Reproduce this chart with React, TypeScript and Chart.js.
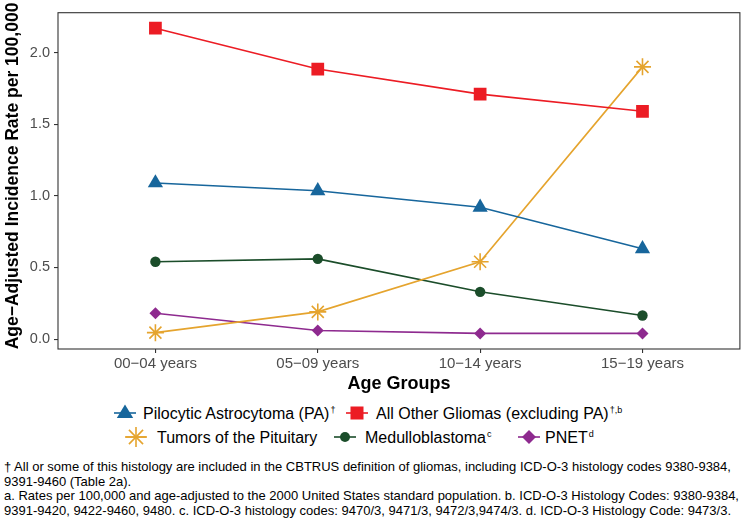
import React, { useEffect, useRef } from "react";
import { Chart, registerables } from "chart.js";

Chart.register(...registerables);

const FONT = '"Liberation Sans", Arial, Helvetica, sans-serif';

// ---- data ----
const categories = ["00\u221204 years", "05\u221209 years", "10\u221214 years", "15\u221219 years"];
const yTicks = [0, 0.5, 1.0, 1.5, 2.0];
const paValues = [1.09, 1.035, 0.92, 0.63];
const otherGliomaValues = [2.17, 1.885, 1.71, 1.59];
const pituitaryValues = [0.045, 0.19, 0.54, 1.9];
const medulloValues = [0.54, 0.56, 0.33, 0.165];
const pnetValues = [0.18, 0.06, 0.04, 0.04];

const xTitle = "Age Groups";
const yTitle = "Age\u2212Adjusted Incidence Rate per 100,000";

const COLORS = {
  pa: "#17669C",
  other: "#EC1C24",
  pit: "#E5A42E",
  med: "#1B4D2A",
  pnet: "#8E2A8F",
};

const footnotes = [
  "\u2020 All or some of this histology are included in the CBTRUS definition of gliomas, including ICD-O-3 histology codes 9380-9384,",
  "9391-9460 (Table 2a).",
  "a. Rates per 100,000 and age-adjusted to the 2000 United States standard population. b. ICD-O-3 Histology Codes: 9380-9384,",
  "9391-9420, 9422-9460, 9480. c. ICD-O-3 histology codes: 9470/3, 9471/3, 9472/3,9474/3. d. ICD-O-3 Histology Code: 9473/3.",
];

const toPts = (vals: number[]) => vals.map((v, i) => ({ x: i + 1, y: v }));

const decorPlugin = {
  id: "decor",
  afterDraw(chart: any) {
    const { ctx, chartArea: a } = chart;
    ctx.save();
    ctx.strokeStyle = "#333333";
    ctx.lineWidth = 1.1;
    ctx.strokeRect(a.left, a.top, a.right - a.left, a.bottom - a.top);
    ctx.fillStyle = "#000000";
    ctx.font = `bold 18px ${FONT}`;
    ctx.textAlign = "center";
    ctx.textBaseline = "alphabetic";
    ctx.fillText(xTitle, (a.left + a.right) / 2, 388.5);
    ctx.translate(17.5, 176);
    ctx.rotate(-Math.PI / 2);
    ctx.font = `bold 17.5px ${FONT}`;
    ctx.fillText(yTitle, 0, 0);
    ctx.restore();
  },
};

type Shape = "triangle" | "square" | "star" | "circle" | "diamond";

function Icon({ shape, color }: { shape: Shape; color: string }) {
  const c = 13;
  let mark: React.ReactNode = null;
  if (shape === "triangle") {
    mark = <polygon points={`${c},${c - 8.5} ${c + 8.2},${c + 5} ${c - 8.2},${c + 5}`} fill={color} />;
  } else if (shape === "square") {
    mark = <rect x={c - 6.5} y={c - 6.5} width={13} height={13} fill={color} />;
  } else if (shape === "circle") {
    mark = <circle cx={c} cy={c} r={5} fill={color} />;
  } else if (shape === "diamond") {
    mark = <polygon points={`${c},${c - 7} ${c + 7},${c} ${c},${c + 7} ${c - 7},${c}`} fill={color} />;
  } else {
    const r = 10;
    const d = r * Math.SQRT1_2;
    mark = (
      <g stroke={color} strokeWidth={1.6}>
        <line x1={c - r} y1={c} x2={c + r} y2={c} />
        <line x1={c} y1={c - r} x2={c} y2={c + r} />
        <line x1={c - d} y1={c - d} x2={c + d} y2={c + d} />
        <line x1={c - d} y1={c + d} x2={c + d} y2={c - d} />
      </g>
    );
  }
  return (
    <svg width={26} height={26} style={{ display: "block" }}>
      <line x1={2} y1={c} x2={24} y2={c} stroke={color} strokeWidth={1.6} />
      {mark}
    </svg>
  );
}

const legendItems: { label: string; sup: string; shape: Shape; color: string; cx: number; cy: number; tx: number }[] = [
  { label: "Pilocytic Astrocytoma (PA)", sup: "\u2020", shape: "triangle", color: COLORS.pa, cx: 124.5, cy: 413, tx: 143 },
  { label: "All Other Gliomas (excluding PA)", sup: "\u2020,b", shape: "square", color: COLORS.other, cx: 357, cy: 413, tx: 376 },
  { label: "Tumors of the Pituitary", sup: "", shape: "star", color: COLORS.pit, cx: 136, cy: 437, tx: 157 },
  { label: "Medulloblastoma", sup: "c", shape: "circle", color: COLORS.med, cx: 345, cy: 437, tx: 365 },
  { label: "PNET", sup: "d", shape: "diamond", color: COLORS.pnet, cx: 529, cy: 437, tx: 545 },
];

export default function App() {
  const ref = useRef<HTMLCanvasElement>(null);

  useEffect(() => {
    if (!ref.current) return;
    const chart = new Chart(ref.current, {
      type: "line",
      data: {
        datasets: [
          {
            label: "Pilocytic Astrocytoma (PA)",
            data: toPts(paValues),
            borderColor: COLORS.pa,
            backgroundColor: COLORS.pa,
            borderWidth: 1.6,
            pointStyle: "triangle",
            pointRadius: 8.8,
            pointBorderWidth: 0,
          },
          {
            label: "All Other Gliomas (excluding PA)",
            data: toPts(otherGliomaValues),
            borderColor: COLORS.other,
            backgroundColor: COLORS.other,
            borderWidth: 1.6,
            pointStyle: "rect",
            pointRadius: 9,
            pointBorderWidth: 0,
          },
          {
            label: "Tumors of the Pituitary",
            data: toPts(pituitaryValues),
            borderColor: COLORS.pit,
            backgroundColor: COLORS.pit,
            borderWidth: 1.6,
            pointStyle: "star",
            pointRadius: 8.5,
            pointBorderWidth: 1.6,
          },
          {
            label: "Medulloblastoma",
            data: toPts(medulloValues),
            borderColor: COLORS.med,
            backgroundColor: COLORS.med,
            borderWidth: 1.6,
            pointStyle: "circle",
            pointRadius: 5.2,
            pointBorderWidth: 0,
          },
          {
            label: "PNET",
            data: toPts(pnetValues),
            borderColor: COLORS.pnet,
            backgroundColor: COLORS.pnet,
            borderWidth: 1.6,
            pointStyle: "rectRot",
            pointRadius: 6,
            pointBorderWidth: 0,
          },
        ],
      },
      options: {
        responsive: false,
        animation: false,
        devicePixelRatio: 1,
        layout: { padding: { top: 11, right: 10, left: 0, bottom: 0 } },
        plugins: { legend: { display: false }, tooltip: { enabled: false }, title: { display: false } },
        scales: {
          x: {
            type: "linear",
            min: 0.4,
            max: 4.6,
            afterBuildTicks: (s: any) => {
              s.ticks = categories.map((_, i) => ({ value: i + 1 }));
            },
            afterFit: (s: any) => {
              s.height = 46;
            },
            ticks: {
              callback: (v: any) => categories[Math.round(v) - 1] ?? "",
              font: { family: FONT, size: 15 },
              color: "#4D4D4D",
              padding: 2,
              maxRotation: 0,
              autoSkip: false,
            },
            grid: { drawOnChartArea: false, drawTicks: true, tickLength: 4, color: "#333333", lineWidth: 1.1 },
            border: { display: false },
          },
          y: {
            min: -0.069,
            max: 2.278,
            afterBuildTicks: (s: any) => {
              s.ticks = yTicks.map((v) => ({ value: v }));
            },
            afterFit: (s: any) => {
              s.width = 58;
            },
            ticks: {
              callback: (v: any) => Number(v).toFixed(1),
              font: { family: FONT, size: 14.5 },
              color: "#4D4D4D",
              padding: 4,
            },
            grid: { drawOnChartArea: false, drawTicks: true, tickLength: 4, color: "#333333", lineWidth: 1.1 },
            border: { display: false },
          },
        },
      },
      plugins: [decorPlugin],
    });
    return () => chart.destroy();
  }, []);

  return (
    <div
      style={{
        position: "fixed",
        left: 0,
        top: 0,
        width: 750,
        height: 521,
        background: "#ffffff",
        fontFamily: FONT,
        overflow: "hidden",
      }}
    >
      <canvas ref={ref} width={750} height={395} style={{ position: "absolute", left: 0, top: 0, width: 750, height: 395 }} />
      {legendItems.map((it) => (
        <React.Fragment key={it.label}>
          <div style={{ position: "absolute", left: it.cx - 13, top: it.cy - 13 }}>
            <Icon shape={it.shape} color={it.color} />
          </div>
          <div
            style={{
              position: "absolute",
              left: it.tx,
              top: it.cy - 8,
              fontSize: 16,
              lineHeight: "18px",
              color: "#000",
              whiteSpace: "nowrap",
            }}
          >
            {it.label}
            {it.sup ? (
              <span style={{ fontSize: 9, position: "relative", top: -6, marginLeft: 1 }}>{it.sup}</span>
            ) : null}
          </div>
        </React.Fragment>
      ))}
      <div style={{ position: "absolute", left: 4, top: 460, fontSize: 13, lineHeight: "14.5px", color: "#000" }}>
        {footnotes.map((l, i) => (
          <div key={i} style={{ whiteSpace: "nowrap" }}>
            {l}
          </div>
        ))}
      </div>
    </div>
  );
}
